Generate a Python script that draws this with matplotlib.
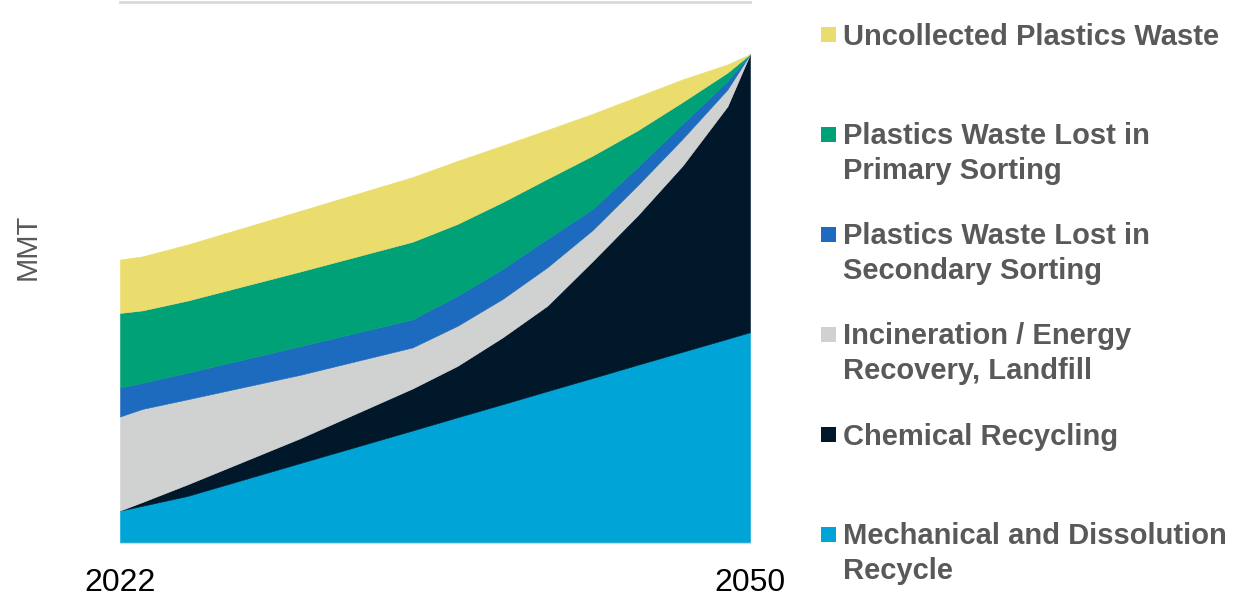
import matplotlib.pyplot as plt
from matplotlib.patches import Rectangle

W, H = 1248, 598

years = [2022, 2023, 2025, 2030, 2035, 2037, 2039, 2041, 2043, 2045, 2047, 2049, 2050]

# MMT per pathway, bottom of the stack first
mechanical = [16.2, 18.6, 23.5, 39.9, 56.2, 62.8, 69.3, 75.9, 82.4, 89.0, 95.5, 102.0, 105.3]
chemical = [0.0, 1.9, 5.8, 12.4, 21.0, 25.7, 33.4, 42.7, 58.4, 74.6, 93.0, 116.2, 138.9]
incineration = [47.0, 46.5, 42.5, 31.7, 20.5, 20.0, 19.2, 19.2, 15.5, 15.0, 13.4, 8.4, 0.0]
lost_secondary = [14.5, 13.0, 13.3, 14.3, 14.0, 15.0, 15.0, 14.2, 10.5, 9.2, 7.5, 4.2, 0.0]
lost_primary = [37.2, 36.2, 36.0, 37.3, 38.8, 35.9, 33.4, 30.0, 26.7, 18.3, 10.9, 4.2, 0.0]
uncollected = [26.7, 27.0, 28.0, 30.3, 32.3, 31.5, 28.3, 24.4, 20.9, 16.9, 11.3, 4.1, 0.0]

labels = ['Mechanical and Dissolution\nRecycle',
          'Chemical Recycling',
          'Incineration / Energy\nRecovery, Landfill',
          'Plastics Waste Lost in\nSecondary Sorting',
          'Plastics Waste Lost in\nPrimary Sorting',
          'Uncollected Plastics Waste']
colors = ['#00A4D6', '#00182A', '#D0D2D1', '#1C6BBE', '#00A176', '#EADD6E']

fig = plt.figure(figsize=(W / 100, H / 100), dpi=100)
ax = fig.add_axes([120 / W, 1 - 543 / H, 630 / W, 541.5 / H])

polys = ax.stackplot(years, mechanical, chemical, incineration, lost_secondary,
                     lost_primary, uncollected, colors=colors, linewidth=0)
for p, c in zip(polys, colors):
    p.set_edgecolor(c)
    p.set_linewidth(0.4)

ax.set_xlim(2022, 2050)
ax.set_ylim(0, 270.5)
ax.set_yticks([])
ax.set_xticks([2022, 2050])
ax.set_xticklabels(['2022', '2050'], fontsize=23, family='Liberation Sans', color='black')
ax.tick_params(axis='x', length=0, pad=18)

for side in ['left', 'right']:
    ax.spines[side].set_visible(False)
ax.spines['top'].set_color('#D9D9D9')
ax.spines['top'].set_linewidth(2)
ax.spines['bottom'].set_color('#D9D9D9')
ax.spines['bottom'].set_linewidth(1)

fig.text(28 / W, 1 - 247 / H, 'MMT', rotation=90, ha='center', va='center',
         fontsize=21, family='Liberation Sans', color='#595959')

# legend, top entry first; 'baseline' pins the last line, so push multi-line labels down
line_pitch = 34
baseline = 45
for lab, c in zip(labels[::-1], colors[::-1]):
    fig.patches.append(Rectangle((821 / W, 1 - (baseline - 3) / H), 15 / W, 15 / H,
                                 transform=fig.transFigure, facecolor=c, edgecolor='none'))
    last = baseline + lab.count('\n') * line_pitch
    fig.text(843 / W, 1 - last / H, lab, ha='left', va='baseline', fontsize=21,
             family='Liberation Sans', fontweight='bold', color='#595959', linespacing=1.3)
    baseline += 100

fig.savefig('out.png', dpi=100)
